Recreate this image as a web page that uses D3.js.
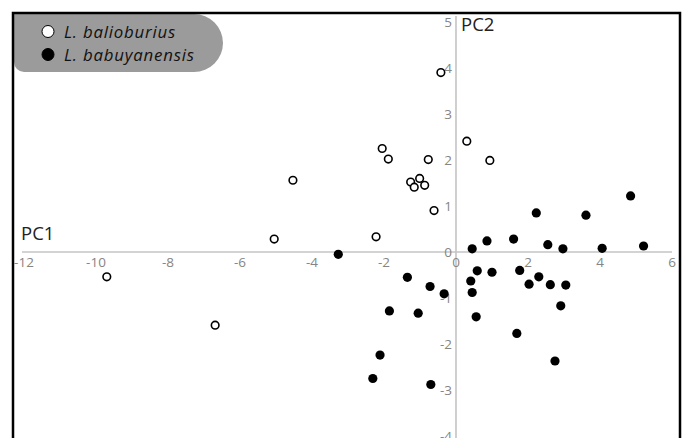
<!DOCTYPE html>
<html><head><meta charset="utf-8">
<script src="https://cdn.jsdelivr.net/npm/d3@7"></script>
<style>body{margin:0;background:#fff}svg{display:block}</style>
</head><body>
<script>
const xTicks = [-12,-10,-8,-6,-4,-2,0,2,4,6];
const yTicks = [-4,-3,-2,-1,0,1,2,3,4,5];
const seriesNames = ["L. balioburius","L. babuyanensis"];
const balioX = [-0.42,0.30,0.94,-2.05,-1.88,-0.77,-4.53,-1.26,-1.16,-1.01,-0.87,-0.61,-5.05,-2.22,-9.70,-6.69];
const balioY = [3.90,2.41,1.99,2.25,2.02,2.01,1.56,1.52,1.41,1.60,1.45,0.90,0.28,0.33,-0.54,-1.59];
const babuX = [-3.27,0.45,0.86,1.60,2.23,2.55,2.97,3.61,4.06,4.85,5.21,-1.35,-0.72,-0.33,-1.85,-1.05,0.59,1.00,1.77,0.41,0.45,2.03,2.30,2.62,3.05,0.56,2.91,1.69,-2.11,2.75,-2.31,-0.70];
const babuY = [-0.05,0.07,0.24,0.28,0.85,0.16,0.07,0.80,0.08,1.22,0.13,-0.55,-0.75,-0.91,-1.28,-1.33,-0.41,-0.44,-0.40,-0.63,-0.88,-0.70,-0.54,-0.71,-0.72,-1.41,-1.17,-1.77,-2.24,-2.37,-2.75,-2.88];

const W=686,H=438;
const svg=d3.select("body").append("svg").attr("width",W).attr("height",H);
const x=d3.scaleLinear().domain([-12,6]).range([24,672]);
const y=d3.scaleLinear().domain([-4,5]).range([436,22]);
const font="'Open Sans', sans-serif";

// axes lines
svg.append("line").attr("x1",x(-12)-2).attr("x2",x(6)).attr("y1",y(0)).attr("y2",y(0))
  .attr("stroke","#c4c4c4").attr("stroke-width",1.6);
svg.append("line").attr("x1",x(0)).attr("x2",x(0)).attr("y1",16).attr("y2",H)
  .attr("stroke","#c4c4c4").attr("stroke-width",1.6);

// x tick labels
svg.append("g").selectAll("text").data(xTicks).join("text")
  .attr("x",d=>x(d)).attr("y",y(0)+15).attr("text-anchor","middle")
  .attr("font-family",font).attr("font-size",13.5).attr("fill","#858585").text(d=>d);
// y tick labels
svg.append("g").selectAll("text").data(yTicks).join("text")
  .attr("x",x(0)-4).attr("y",d=>y(d)+4.5).attr("text-anchor","end")
  .attr("font-family",font).attr("font-size",13.5).attr("fill","#858585").text(d=>d);

svg.append("text").attr("x",21).attr("y",240).attr("font-family",font).attr("font-size",18.5)
  .attr("fill","#222").text("PC1");
svg.append("text").attr("x",461).attr("y",31).attr("font-family",font).attr("font-size",18.5)
  .attr("fill","#222").text("PC2");

// points
const balio=balioX.map((v,i)=>[v,balioY[i]]);
const babu=babuX.map((v,i)=>[v,babuY[i]]);
svg.append("g").selectAll("circle").data(balio).join("circle")
  .attr("cx",d=>x(d[0])).attr("cy",d=>y(d[1])).attr("r",3.8)
  .attr("fill","#fff").attr("stroke","#000").attr("stroke-width",1.6);
svg.append("g").selectAll("circle").data(babu).join("circle")
  .attr("cx",d=>x(d[0])).attr("cy",d=>y(d[1])).attr("r",4.6)
  .attr("fill","#000");

// legend
svg.append("path").attr("d","M14,14 L194,14 A29,29 0 0 1 194,72 L24,72 A10,10 0 0 1 14,62 Z")
  .attr("fill","#9b9b9b");
const leg=svg.append("g");
seriesNames.forEach((n,i)=>{
  const cy=31.5+i*23;
  leg.append("circle").attr("cx",48).attr("cy",cy).attr("r",6)
    .attr("fill",i===0?"#fff":"#000").attr("stroke","#000").attr("stroke-width",1);
  leg.append("text").attr("x",64).attr("y",cy+6).attr("font-family",font).attr("font-style","italic")
    .attr("font-size",16.8).attr("letter-spacing",0.8).attr("fill","#111").text(n);
});

// frame
svg.append("path").attr("d",`M13,${H+5} L13,13 L680,13 L680,${H+5}`)
  .attr("fill","none").attr("stroke","#000").attr("stroke-width",2.5);
</script>
</body></html>
